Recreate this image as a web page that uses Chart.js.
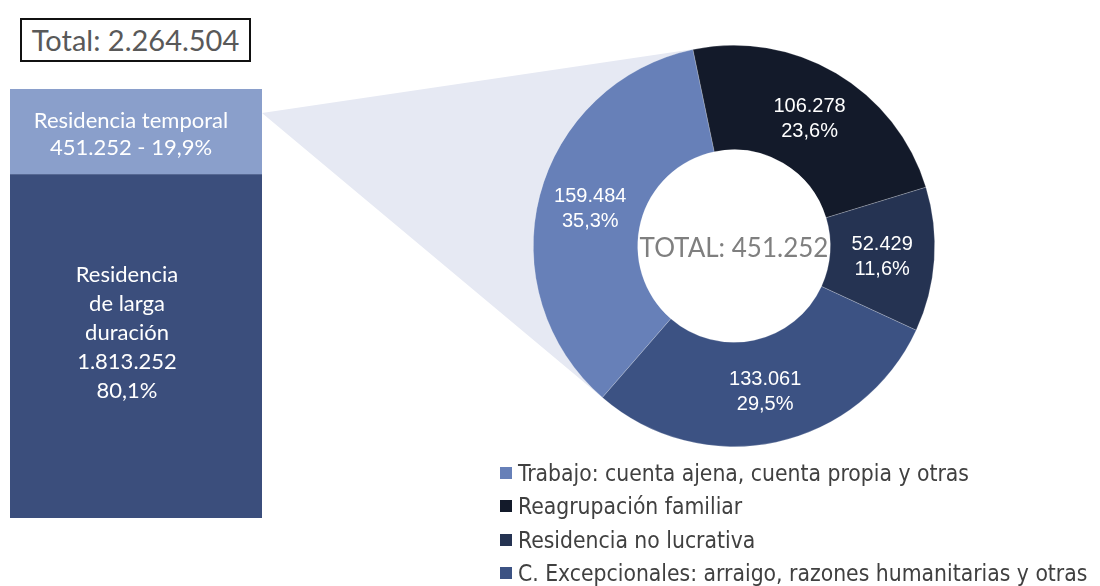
<!DOCTYPE html>
<html>
<head>
<meta charset="utf-8">
<script src="https://cdn.jsdelivr.net/npm/chart.js@4.4.1/dist/chart.umd.min.js"></script>
<style>
  body { margin: 0; background: #fff; width: 1100px; height: 586px; overflow: hidden; position: relative; font-family: Lato, sans-serif; }
  #pie { position: absolute; left: 0; top: 0; }
  #bar { position: absolute; left: 10px; top: 89px; }
  #total { position: absolute; left: 20px; top: 18px; width: 227px; height: 40px; border: 2px solid #111;
           font-size: 29px; color: #595959; line-height: 40px; text-align: center; }
  #legend { position: absolute; left: 500px; top: 456px; font-family: "DejaVu Sans Condensed", "DejaVu Sans", sans-serif;
            font-size: 22.7px; color: #404040; }
  .row { height: 33.5px; display: flex; align-items: center; white-space: nowrap; }
  .sw { width: 12px; height: 12px; margin-right: 6px; flex: none; }
</style>
</head>
<body>
<div id="total"></div>
<canvas id="pie" width="1100" height="586"></canvas>
<canvas id="bar" width="252" height="429"></canvas>
<div id="legend"></div>
<script>
// left bar: residence permits by type
const barSeries = ['Residencia de larga duración', 'Residencia temporal'];
const barValues = [1813252, 451252];
const barColors = ['#3B4E7C', '#8A9FCB'];
const barTextLines = [
  ['Residencia', 'de larga', 'duración'],
  ['Residencia temporal']
];

// doughnut: breakdown of temporary residence
const pieLabels = [
  'Trabajo: cuenta ajena, cuenta propia y otras',
  'Reagrupación familiar',
  'Residencia no lucrativa',
  'C. Excepcionales: arraigo, razones humanitarias y otras'
];
const pieValues = [159484, 106278, 52429, 133061];
const pieColors = ['#6780B8', '#131A2A', '#253352', '#3C5283'];

const fmt = n => String(n).replace(/\B(?=(\d{3})+(?!\d))/g, '.');
const pct = (v, t) => (v / t * 100).toFixed(1).replace('.', ',') + '%';

const grandTotal = barValues.reduce((a, b) => a + b, 0);
const pieTotal = pieValues.reduce((a, b) => a + b, 0);

document.getElementById('total').textContent = 'Total: ' + fmt(grandTotal);

// legend
const legend = document.getElementById('legend');
pieLabels.forEach((l, i) => {
  const row = document.createElement('div');
  row.className = 'row';
  row.innerHTML = '<span class="sw" style="background:' + pieColors[i] + '"></span>' + l;
  legend.appendChild(row);
});

// text inside the bar segments
const barText = {
  id: 'barText',
  afterDatasetsDraw(chart) {
    const ctx = chart.ctx;
    ctx.save();
    ctx.fillStyle = '#fff';
    ctx.font = '22px Lato, sans-serif';
    ctx.textAlign = 'center';
    ctx.textBaseline = 'middle';
    chart.data.datasets.forEach((ds, i) => {
      const el = chart.getDatasetMeta(i).data[0];
      let lines;
      if (i === 1) {
        lines = barTextLines[1].concat([fmt(barValues[1]) + ' - ' + pct(barValues[1], grandTotal)]);
      } else {
        lines = barTextLines[0].concat([fmt(barValues[0]), pct(barValues[0], grandTotal)]);
      }
      const lh = i === 1 ? 27 : 29;
      const mid = (el.y + el.base) / 2 + (i === 0 ? -13 : 3);
      const y0 = mid - (lines.length - 1) * lh / 2;
      lines.forEach((t, k) => ctx.fillText(t, el.x - (i === 0 ? 9 : 5), y0 + k * lh));
    });
    ctx.restore();
  }
};

const barChart = new Chart(document.getElementById('bar'), {
  type: 'bar',
  data: {
    labels: [''],
    datasets: barSeries.map((s, i) => ({
      label: s,
      data: [barValues[i]],
      backgroundColor: barColors[i],
      borderWidth: 0,
      barPercentage: 1,
      categoryPercentage: 1
    }))
  },
  options: {
    responsive: false,
    animation: false,
    layout: { padding: 0 },
    scales: {
      x: { stacked: true, display: false },
      y: { stacked: true, display: false, min: 0, max: grandTotal }
    },
    plugins: { legend: { display: false }, tooltip: { enabled: false } }
  },
  plugins: [barText]
});

// wedge from the temporary-residence segment to the doughnut
const connector = {
  id: 'connector',
  beforeDatasetsDraw(chart) {
    const seg = barChart.getDatasetMeta(1).data[0];
    const barCanvas = barChart.canvas;
    const px = barCanvas.offsetLeft + seg.x + seg.width / 2;
    const py = barCanvas.offsetTop + seg.y + (seg.base - seg.y) * 0.28;
    const arc = chart.getDatasetMeta(0).data[0];
    const cx = arc.x, cy = arc.y, R = arc.outerRadius;
    const d = Math.hypot(cx - px, cy - py);
    const phi = Math.atan2(cy - py, cx - px);
    const alpha = Math.asin(R / d);
    const L = Math.sqrt(d * d - R * R);
    const t1x = px + L * Math.cos(phi - alpha), t1y = py + L * Math.sin(phi - alpha);
    const t2x = px + L * Math.cos(phi + alpha), t2y = py + L * Math.sin(phi + alpha);
    const a1 = Math.atan2(t1y - cy, t1x - cx), a2 = Math.atan2(t2y - cy, t2x - cx);
    const ctx = chart.ctx;
    ctx.save();
    ctx.fillStyle = '#E6E9F3';
    ctx.beginPath();
    ctx.moveTo(px, py);
    ctx.lineTo(t1x, t1y);
    ctx.arc(cx, cy, R, a1, a2, true);
    ctx.closePath();
    ctx.fill();
    ctx.restore();
  },
  afterDatasetsDraw(chart) {
    const ctx = chart.ctx;
    const meta = chart.getDatasetMeta(0);
    ctx.save();
    ctx.textAlign = 'center';
    ctx.textBaseline = 'middle';
    ctx.fillStyle = '#fff';
    ctx.font = '20px "Liberation Sans", Arial, sans-serif';
    meta.data.forEach((arc, i) => {
      const p = arc.tooltipPosition();
      ctx.fillText(fmt(pieValues[i]), p.x, p.y - 12);
      ctx.fillText(pct(pieValues[i], pieTotal), p.x, p.y + 13);
    });
    const c = meta.data[0];
    ctx.fillStyle = '#7F7F7F';
    ctx.font = '26px Lato, sans-serif';
    ctx.fillText('TOTAL: ' + fmt(pieTotal), c.x, c.y + 3);
    ctx.restore();
  }
};

// start angle so the first slice ends at about -11.8 deg from 12 o'clock
const firstShare = pieValues[0] / pieTotal * 360;

new Chart(document.getElementById('pie'), {
  type: 'doughnut',
  data: {
    labels: pieLabels,
    datasets: [{
      data: pieValues,
      backgroundColor: pieColors,
      borderColor: 'rgba(255,255,255,0.35)',
      borderWidth: 0.6
    }]
  },
  options: {
    responsive: false,
    animation: false,
    cutout: '48%',
    rotation: -11.8 - firstShare,
    layout: { padding: { left: 533, right: 165, top: 45, bottom: 139 } },
    plugins: { legend: { display: false }, tooltip: { enabled: false } }
  },
  plugins: [connector]
});
</script>
</body>
</html>
